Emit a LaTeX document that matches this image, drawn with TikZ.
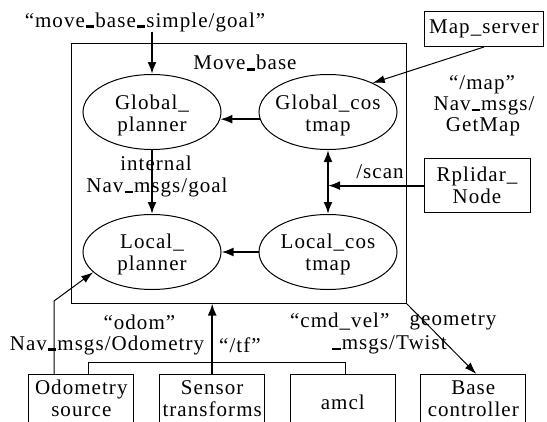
\documentclass[tikz,border=0pt]{standalone}
\usepackage{fontspec}
\setmainfont[LetterSpace=5]{Liberation Serif}
\usetikzlibrary{arrows.meta,shapes.geometric}

% heavy underscore used in the topic names
\newcommand\thkus{\kern0.05em\rule[-0.6pt]{0.4em}{2.4pt}\kern0.05em}

\tikzset{
  txt/.style={font=\fontsize{21}{22}\selectfont, align=center, inner sep=0pt},
  oval/.style={draw, ellipse, line width=1pt, minimum width=138pt, minimum height=75pt, inner sep=0pt},
  boxnode/.style={draw, line width=1pt, inner sep=0pt, font=\fontsize{21}{22}\selectfont, align=center},
  botbox/.style={draw, line width=1pt, inner sep=0pt, minimum width=105pt, minimum height=60pt},
  arw/.style={line width=2pt, -{Latex[length=12pt,width=9pt]}},
  tarw/.style={line width=1pt, -{Latex[length=12pt,width=8pt]}},
  thinline/.style={line width=1pt}
}

\begin{document}
\begin{tikzpicture}[x=1pt, y=-1pt]
  \path[use as bounding box] (0,0) rectangle (547,421);
  \clip (0,0) rectangle (547,421);

  % move_base container
  \node[draw, line width=1pt, minimum width=335pt, minimum height=260pt, inner sep=0pt] (mb) at (238.5,173) {};
  \node[txt] (mblabel) at (245,63) {Move\thkus base};

  % planners and costmaps
  \node[oval] (gp) at (152,112) {};
  \node[txt] (gptext) at (152,115) {Global\_\\planner};
  \node[oval] (gc) at (328,112) {};
  \node[txt] (gctext) at (328,115) {Global\_cos\\tmap};
  \node[oval] (lp) at (152,252) {};
  \node[txt] (lptext) at (152,254) {Local\_\\planner};
  \node[oval] (lc) at (328,252) {};
  \node[txt] (lctext) at (328,254) {Local\_cos\\tmap};

  % external nodes
  \node[boxnode, minimum width=119pt, minimum height=35pt] (ms) at (484,29) {Map\_server};
  \node[boxnode, minimum width=106pt, minimum height=54pt] (rp) at (477,185.6) {Rplidar\_\\Node};

  % bottom row: boxes run past the lower edge, their text sits above it
  \node[botbox] (od) at (81.3,404.5) {};
  \node[botbox] (st) at (212.2,404.5) {};
  \node[botbox] (am) at (342.8,404.5) {};
  \node[botbox] (bc) at (473.3,404.5) {};
  \node[txt] (odtext) at (81.3,398.5) {Odometry\\source};
  \node[txt] (sttext) at (212.2,398.5) {Sensor\\transforms};
  \node[txt] (amtext) at (342.8,402) {amcl};
  \node[txt] (bctext) at (473.3,398.5) {Base\\controller};

  % goal topic
  \node[txt] (goal) at (145,22) {“move\thkus base\thkus simple/goal”};
  \draw[arw] (gp.north |- goal.south) -- (gp.north);

  % connections inside move_base
  \draw[arw] (gc.186) -- (gp.354);
  \draw[arw] (gp.south) -- (lp.north);
  \node[txt] (intl) at (156,163) {internal};
  \node[txt] (intm) at (157,187.5) {Nav\thkus msgs/goal};
  \draw[line width=2pt, {Latex[length=12pt,width=9pt]}-{Latex[length=12pt,width=9pt]}] (gc.south) -- (lc.north);
  \draw[arw] (lc.west) -- (lp.east);

  % map and scan inputs
  \draw[tarw] (ms.south) -- (gc.33);
  \node[txt] (map1) at (482,85) {“/map”};
  \node[txt] (map2) at (484,106) {Nav\thkus msgs/};
  \node[txt] (map3) at (483,127) {GetMap};
  \draw[arw] (rp.west) -- (gc.south |- rp.west);
  \node[txt] (scan) at (380,172) {/scan};

  % odometry, transforms and velocity
  \coordinate (obend) at (54,301);
  \draw[tarw] (od.north -| obend) -- (obend) -- (lp.199);
  \draw[thinline] ([xshift=7pt]od.north) -- ++(0,-12) -| ([xshift=3pt]am.north);
  \draw[arw] (st.north) -- (st.north |- mb.south);
  \draw[tarw] (mb.south east) -- ([xshift=3pt]bc.north);

  \node[txt] (odom1) at (139.4,322) {“odom”};
  \node[txt] (odom2) at (107,345) {Nav\thkus msgs/Odometry};
  \node[txt] (tf) at (240,345) {“/tf”};
  \node[txt] (cmd1) at (339.7,322) {“cmd\_vel”};
  \node[txt] (cmd2) at (453,322) {geometry};
  \node[txt] (cmd3) at (389,345) {\thkus msgs/Twist};
\end{tikzpicture}
\end{document}
